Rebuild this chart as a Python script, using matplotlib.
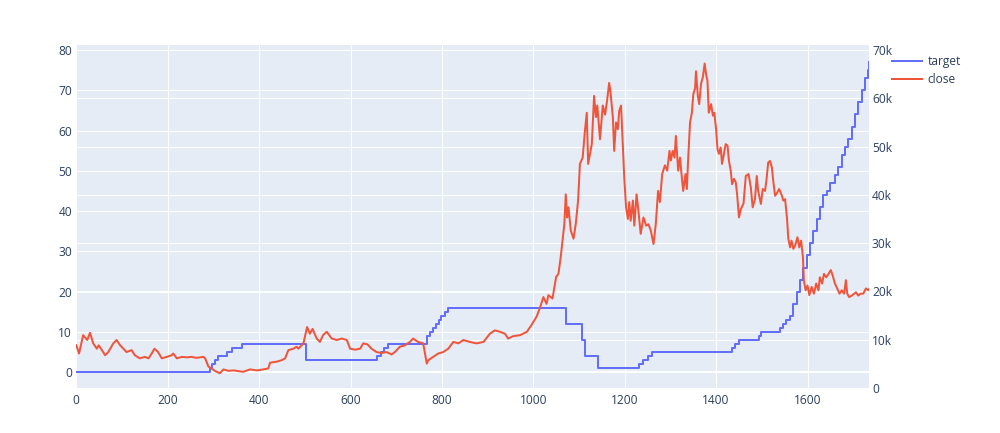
import matplotlib
matplotlib.use("Agg")
import matplotlib.pyplot as plt
from matplotlib.lines import Line2D
from matplotlib.ticker import FuncFormatter

plt.rcParams['font.family'] = ['Open Sans', 'DejaVu Sans']

# ---------------- data ----------------
target_day = [0, 293, 297, 303, 310, 329, 341, 363, 503, 657, 666, 674, 682,
              768, 775, 781, 787, 793, 799, 806, 813, 1072, 1106, 1113, 1142,
              1232, 1239, 1252, 1259, 1435, 1442, 1450, 1493, 1499, 1540, 1547,
              1554, 1561, 1569, 1576, 1584, 1591, 1598, 1605, 1613, 1620, 1627,
              1635, 1642, 1649, 1660, 1667, 1675, 1682, 1689, 1697, 1704, 1711,
              1719, 1726, 1733, 1735]
target_level = [0, 1, 2, 3, 4, 5, 6, 7, 3, 4, 5, 6, 7,
                9, 10, 11, 12, 13, 14, 15, 16, 12, 8, 4, 1,
                2, 3, 4, 5, 6, 7, 8, 9, 10, 11, 12,
                13, 14, 17, 20, 23, 26, 29, 32, 35, 38, 41,
                44, 45, 47, 49, 51, 54, 56, 58, 61, 64, 67,
                70, 73, 75, 77]

close_day = [0, 6, 15, 24, 30, 37, 45, 49, 56, 63, 70, 81, 88, 96, 103, 110,
             121, 128, 139, 150, 158, 165, 171, 179, 187, 198, 209, 212, 220,
             231, 242, 252, 263, 278, 282, 289, 296, 303, 314, 322, 333, 344,
             365, 380, 395, 409, 420, 424, 438, 449, 457, 464, 475, 482, 486,
             497, 505, 511, 517, 526, 533, 540, 548, 559, 570, 581, 592, 599,
             610, 621, 628, 637, 646, 657, 668, 679, 690, 697, 708, 719, 730,
             737, 748, 759, 767, 770, 781, 792, 803, 814, 825, 836, 847, 861,
             876, 891, 905, 916, 927, 938, 945, 956, 971, 986, 996, 1007, 1015,
             1022, 1029, 1033, 1042, 1050, 1055, 1060, 1064, 1068, 1071, 1074,
             1077, 1082, 1088, 1093, 1098, 1102, 1108, 1113, 1117, 1120, 1124,
             1128, 1133, 1137, 1140, 1146, 1152, 1157, 1161, 1166, 1169, 1174,
             1177, 1181, 1185, 1188, 1192, 1196, 1199, 1203, 1207, 1210, 1213,
             1218, 1221, 1226, 1230, 1235, 1241, 1247, 1252, 1257, 1263, 1268,
             1273, 1277, 1282, 1288, 1293, 1298, 1301, 1305, 1309, 1312, 1317,
             1321, 1325, 1328, 1333, 1336, 1339, 1343, 1347, 1350, 1354, 1356,
             1360, 1363, 1367, 1371, 1375, 1378, 1381, 1384, 1389, 1393, 1396,
             1400, 1403, 1406, 1410, 1413, 1417, 1421, 1425, 1428, 1432, 1435,
             1439, 1443, 1446, 1450, 1454, 1460, 1465, 1471, 1476, 1480, 1485,
             1489, 1492, 1498, 1502, 1507, 1510, 1514, 1518, 1522, 1525, 1529,
             1534, 1538, 1544, 1547, 1551, 1555, 1558, 1562, 1565, 1569, 1573,
             1578, 1582, 1586, 1590, 1592, 1596, 1600, 1604, 1609, 1614, 1619,
             1624, 1627, 1632, 1636, 1641, 1646, 1651, 1655, 1660, 1665, 1670,
             1675, 1680, 1684, 1687, 1691, 1697, 1702, 1706, 1711, 1716, 1722,
             1728, 1733, 1735]
close_val = [8800, 7100, 10900, 9900, 11400, 9200, 8100, 8800, 7800, 6750, 7400,
             9200, 9900, 8800, 8100, 7400, 7800, 6750, 6100, 6400, 6100, 7100,
             8100, 7400, 6100, 6400, 6750, 7100, 6100, 6400, 6300, 6400, 6200,
             6400, 6100, 4400, 4000, 3500, 3000, 3800, 3500, 3600, 3300, 3800,
             3600, 3800, 4000, 5200, 5400, 5700, 6100, 7800, 8100, 8500, 8100,
             9200, 12600, 11200, 12200, 10200, 9500, 10900, 11600, 10200, 9900,
             10200, 9900, 8100, 7900, 8100, 9200, 9000, 8100, 7400, 7200, 7400,
             6900, 7400, 8500, 8800, 9500, 10200, 9500, 9200, 5000, 5700, 6400,
             7100, 7400, 8100, 9500, 9200, 9900, 9500, 9200, 9500, 11200, 11900,
             11600, 11200, 10200, 10700, 10900, 11600, 13000, 14700, 16700,
             18800, 17400, 19200, 18500, 23000, 23600, 27100, 30500, 34000,
             40100, 35300, 37400, 32600, 30900, 34000, 38800, 46400, 47700,
             53300, 57000, 46400, 48500, 50500, 60500, 56100, 58500, 51500,
             58500, 56600, 59200, 63200, 61200, 56100, 49100, 55000, 53600,
             57400, 58500, 49800, 43600, 37400, 35000, 38500, 34600, 38800,
             33600, 40100, 36700, 31900, 35300, 33600, 33900, 32600, 29800,
             33900, 40800, 38500, 44300, 46100, 45000, 49100, 47100, 49100,
             47700, 52200, 45000, 47700, 43600, 40800, 44300, 41200, 47700,
             55000, 57000, 60800, 62100, 65600, 60500, 58800, 63000, 64400,
             67200, 65000, 63700, 57000, 58800, 56400, 57000, 53600, 49500,
             48500, 49800, 46400, 48500, 50500, 50200, 47100, 45000, 42200,
             43300, 42600, 40100, 35300, 37000, 38200, 43900, 44300, 41500,
             37400, 39100, 43900, 40800, 38100, 41200, 40800, 42900, 46700,
             47000, 45700, 42900, 39800, 40500, 41200, 39800, 38800, 39100,
             35300, 30900, 29100, 30500, 28800, 29500, 31200, 29100, 30500,
             27100, 22300, 20200, 21200, 19200, 20900, 19500, 21600, 20200,
             22900, 21600, 23600, 22900, 23600, 24400, 23300, 21600, 20600,
             19500, 20200, 19500, 22300, 19500, 18800, 19100, 19500, 19800,
             19100, 19500, 19500, 20600, 20200, 20500]

series_names = ['target', 'close']
x_ticks = list(range(0, 1601, 200))
left_ticks = list(range(0, 81, 10))
right_ticks = list(range(0, 70001, 10000))

# ---------------- style ----------------
W, H = 1000, 433
BG = '#E5ECF6'
TXT = '#2a3f5f'
C_T = '#636EFA'
C_C = '#EF553B'
FS = 12 * 0.72
LW = 2 * 0.72

fig = plt.figure(figsize=(W / 100, H / 100), dpi=100)
rect = [76.3 / W, 1 - 388 / H, (869.2 - 76.3) / W, (388 - 45) / H]

ax = fig.add_axes(rect)
ax.set_facecolor(BG)
ax.set_xlim(0, 1735)
ax.set_ylim(-3.9, 81.24)
ax.set_xticks(x_ticks)
ax.set_yticks(left_ticks)
ax.grid(True, color='white', lw=0.72)
ax.axhline(0, color='white', lw=LW)
for s in ax.spines.values():
    s.set_visible(False)
ax.tick_params(length=0, labelsize=FS, labelcolor=TXT, pad=3)
ax.tick_params(axis='x', pad=4)

axr = ax.twinx()
axr.set_ylim(-50, 71050)
axr.set_yticks(right_ticks)
axr.yaxis.set_major_formatter(FuncFormatter(lambda v, p: '0' if v == 0 else f'{int(round(v / 1000))}k'))
axr.grid(True, axis='y', color='white', lw=0.72)
for s in axr.spines.values():
    s.set_visible(False)
axr.tick_params(length=0, labelsize=FS, labelcolor=TXT, pad=2)

axb = ax.twinx()
axb.set_ylim(ax.get_ylim())
axb.axis('off')
axb.plot(target_day, target_level, drawstyle='steps-post', color=C_T, lw=LW)

axc = ax.twinx()
axc.set_ylim(axr.get_ylim())
axc.axis('off')
axc.plot(close_day, close_val, color=C_C, lw=LW)

handles = [Line2D([], [], color=C_T, lw=LW), Line2D([], [], color=C_C, lw=LW)]
leg = fig.legend(handles, series_names, loc='upper left', bbox_to_anchor=(0.8917, 0.873),
                 frameon=False, fontsize=FS, handlelength=2.5, handletextpad=0.47,
                 labelspacing=0.42, borderpad=0, borderaxespad=0)
for t in leg.get_texts():
    t.set_color(TXT)

fig.savefig('out.png', dpi=100)
